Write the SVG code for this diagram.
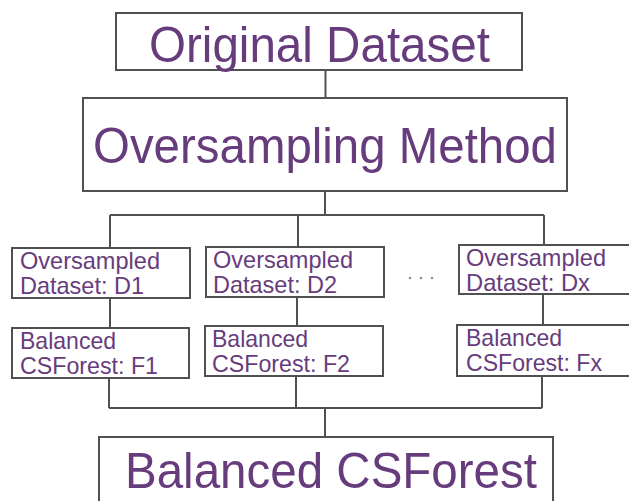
<svg xmlns="http://www.w3.org/2000/svg" width="629" height="501" viewBox="0 0 629 501">
<style>
.box{fill:#ffffff;stroke:#505050;stroke-width:2}
.con{fill:none;stroke:#505050;stroke-width:2}
.big{font-family:"Liberation Sans",Arial,sans-serif;font-size:50px;fill:#673c7c}
.sm{font-family:"Liberation Sans",Arial,sans-serif;font-size:24px;fill:#673c7c}
.dot{fill:#8a8fa8}
</style>
<rect width="629" height="501" fill="#ffffff"/>
<g id="connectors">
<path class="con" d="M325.5 70V98"/>
<path class="con" d="M325 191V215M110 215H544M110 215V248M298 215V247M544 215V245"/>
<path class="con" d="M110 298V328M297 297V326M543 294V325"/>
<path class="con" d="M109 378V408M296 376V408M542 376V408M109 408H542M325 408V437"/>
</g>
<g id="original-dataset">
<rect class="box" x="116" y="13" width="406" height="57"/>
<text class="big" x="149" y="62" textLength="341" lengthAdjust="spacingAndGlyphs">Original Dataset</text>
</g>
<g id="oversampling-method">
<rect class="box" x="83" y="98" width="484" height="93"/>
<text class="big" x="93" y="163" textLength="464" lengthAdjust="spacingAndGlyphs">Oversampling Method</text>
</g>
<g id="oversampled-d1">
<rect class="box" x="12" y="248" width="178" height="50"/>
<text class="sm" x="20" y="269" textLength="140" lengthAdjust="spacingAndGlyphs">Oversampled</text>
<text class="sm" x="20" y="294" textLength="124" lengthAdjust="spacingAndGlyphs">Dataset: D1</text>
</g>
<g id="oversampled-d2">
<rect class="box" x="206" y="247" width="178" height="50"/>
<text class="sm" x="213" y="268" textLength="140" lengthAdjust="spacingAndGlyphs">Oversampled</text>
<text class="sm" x="213" y="293" textLength="124" lengthAdjust="spacingAndGlyphs">Dataset: D2</text>
</g>
<g id="ellipsis">
<circle class="dot" cx="410" cy="278" r="1.3"/>
<circle class="dot" cx="421" cy="278" r="1.3"/>
<circle class="dot" cx="432" cy="278" r="1.3"/>
</g>
<g id="oversampled-dx">
<rect class="box" x="459" y="245" width="185" height="49"/>
<text class="sm" x="466" y="266" textLength="140" lengthAdjust="spacingAndGlyphs">Oversampled</text>
<text class="sm" x="466" y="291" textLength="124" lengthAdjust="spacingAndGlyphs">Dataset: Dx</text>
</g>
<g id="forest-f1">
<rect class="box" x="12" y="328" width="177" height="50"/>
<text class="sm" x="20" y="349" textLength="96" lengthAdjust="spacingAndGlyphs">Balanced</text>
<text class="sm" x="20" y="374" textLength="138" lengthAdjust="spacingAndGlyphs">CSForest: F1</text>
</g>
<g id="forest-f2">
<rect class="box" x="205" y="326" width="178" height="50"/>
<text class="sm" x="212" y="347" textLength="96" lengthAdjust="spacingAndGlyphs">Balanced</text>
<text class="sm" x="212" y="372" textLength="138" lengthAdjust="spacingAndGlyphs">CSForest: F2</text>
</g>
<g id="forest-fx">
<rect class="box" x="457" y="325" width="190" height="51"/>
<text class="sm" x="466" y="346" textLength="96" lengthAdjust="spacingAndGlyphs">Balanced</text>
<text class="sm" x="466" y="371" textLength="136" lengthAdjust="spacingAndGlyphs">CSForest: Fx</text>
</g>
<g id="balanced-csforest">
<rect class="box" x="99" y="437" width="454" height="80"/>
<text class="big" x="125" y="488" textLength="412" lengthAdjust="spacingAndGlyphs">Balanced CSForest</text>
</g>
</svg>
